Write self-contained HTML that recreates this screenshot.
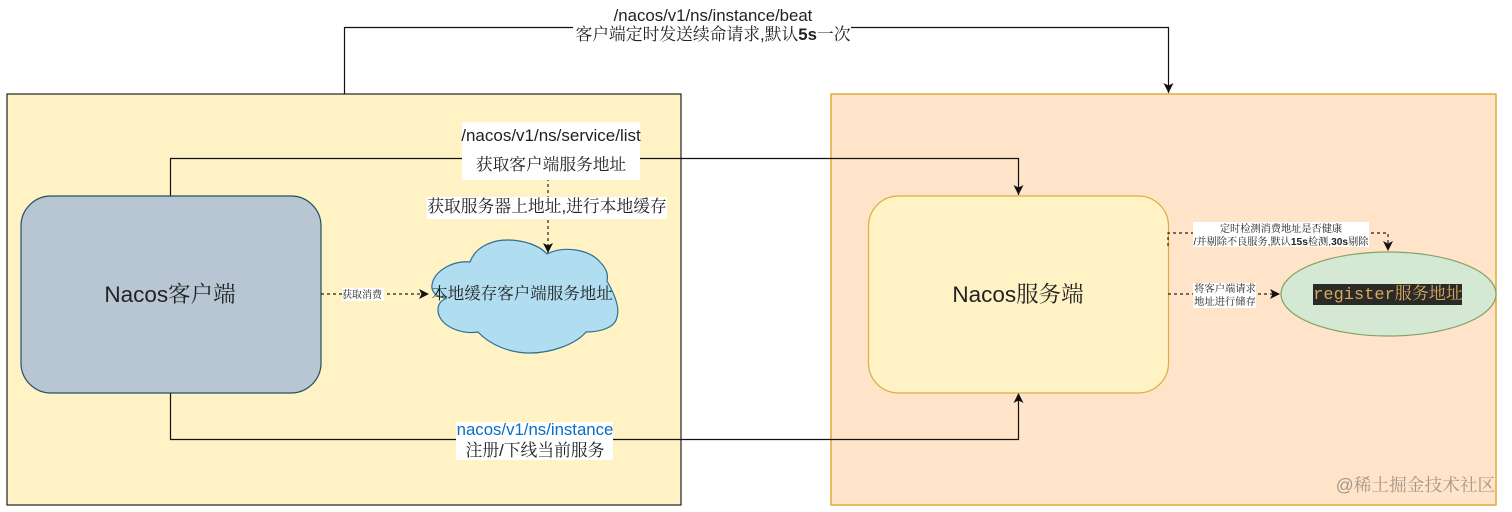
<!DOCTYPE html>
<html><head><meta charset="utf-8"><style>
html,body{margin:0;padding:0;background:#fff;width:1512px;height:512px;overflow:hidden}
svg{display:block}
text{font-family:"Liberation Sans","Noto Serif CJK SC",serif;text-anchor:middle;fill:#222}
</style></head><body>
<svg width="1512" height="512" viewBox="0 0 1512 512" xmlns="http://www.w3.org/2000/svg">
<defs>
<marker id="a" markerWidth="12" markerHeight="12" refX="10" refY="5" orient="auto" markerUnits="userSpaceOnUse"><path d="M0 0L10 5L0 10L2.500 5Z" fill="#111"/></marker>
</defs>
<rect x="7" y="94" width="674" height="411" fill="#fff2c4" stroke="#222" stroke-width="1.2"/>
<rect x="831" y="94" width="665" height="411" fill="#ffe4c9" stroke="#e0ac3a" stroke-width="1.5"/>
<path d="M344.500 94V27.500H1168.500V93" fill="none" stroke="#111" stroke-width="1.2" marker-end="url(#a)"/>
<path d="M170.500 196V158.500H1018.500V195" fill="none" stroke="#111" stroke-width="1.2" marker-end="url(#a)"/>
<path d="M170.500 393V439.500H1018.500V393" fill="none" stroke="#111" stroke-width="1.2" marker-end="url(#a)"/>
<rect x="21" y="196" width="300" height="197" rx="30" fill="#b7c6d2" stroke="#24505f" stroke-width="1.2"/>
<rect x="868.500" y="196" width="300" height="197" rx="30" fill="#fff2c4" stroke="#d9ae3e" stroke-width="1.2"/>
<path d="M470 262C476 245 495 240 507 240C525 240 540 246 547 254C565 245 590 250 600 262C608 270 608 276 607 281C615 295 620 308 617 317C615 328 600 332 586 332C575 345 550 353 530 353C510 353 490 345 478 332C460 335 438 325 438 310C438 303 442 300 447 298C435 298 431 290 432 285C434 270 455 260 470 262Z" fill="#b1ddf0" stroke="#2b6f94" stroke-width="1.2"/>
<ellipse cx="1388.500" cy="294" rx="107.500" ry="42" fill="#d5e8d4" stroke="#82a366" stroke-width="1.2"/>
<g fill="none" stroke="#222" stroke-width="1.2" stroke-dasharray="3 3">
<path d="M548 178V253" marker-end="url(#a)"/>
<path d="M321 294H429" marker-end="url(#a)"/>
<path d="M1168 294H1280" marker-end="url(#a)"/>
<path d="M1168 246V233H1388V251" marker-end="url(#a)"/>
</g>
<rect x="462" y="122" width="178" height="58" fill="#fff"/>
<rect x="427" y="197" width="240" height="22" fill="#fff"/>
<rect x="342" y="288" width="42" height="13" fill="#fff"/>
<rect x="1193" y="222" width="176" height="25" fill="#fff"/>
<rect x="1193" y="283" width="63" height="25" fill="#fff"/>
<rect x="456" y="422" width="157" height="38" fill="#fff"/>
<rect x="1313" y="284" width="149" height="21" fill="#2a2a26"/>
<rect x="573" y="7" width="278" height="38" fill="#fff"/>
<text x="713" y="21" font-size="16.800">/nacos/v1/ns/instance/beat</text>
<text x="713" y="40" font-size="16.800">客户端定时发送续命请求,默认<tspan font-weight="bold">5s</tspan>一次</text>
<text x="551" y="141" font-size="17">/nacos/v1/ns/service/list</text>
<text x="551" y="170" font-size="16.700" fill="#555">获取客户端服务地址</text>
<text x="547" y="212" font-size="16.800">获取服务器上地址,进行本地缓存</text>
<text x="362" y="298" font-size="10" fill="#444">获取消费</text>
<text x="522" y="299" font-size="16.500">本地缓存客户端服务地址</text>
<text x="170" y="302" font-size="22.500">Nacos客户端</text>
<text x="1018" y="302" font-size="22.500">Nacos服务端</text>
<text x="1281" y="232" font-size="10.200" fill="#444">定时检测消费地址是否健康</text>
<text x="1281" y="245" font-size="10.200" fill="#444">/并剔除不良服务,默认<tspan font-weight="bold">15s</tspan>检测,<tspan font-weight="bold">30s</tspan>剔除</text>
<text x="1225" y="292" font-size="10.300" fill="#444">将客户端请求</text>
<text x="1225" y="305" font-size="10.300" fill="#444">地址进行储存</text>
<text x="1388" y="299" font-size="17" style="font-family:'Liberation Mono','Noto Serif CJK SC',monospace;fill:#d8a860">register服务地址</text>
<text x="535" y="435" font-size="16.800" style="fill:#0a6fc2">nacos/v1/ns/instance</text>
<text x="535" y="456" font-size="16.800">注册/下线当前服务</text>
<text x="1415.500" y="491" font-size="17.700" style="fill:#a3978a">@稀土掘金技术社区</text>
</svg>
</body></html>
